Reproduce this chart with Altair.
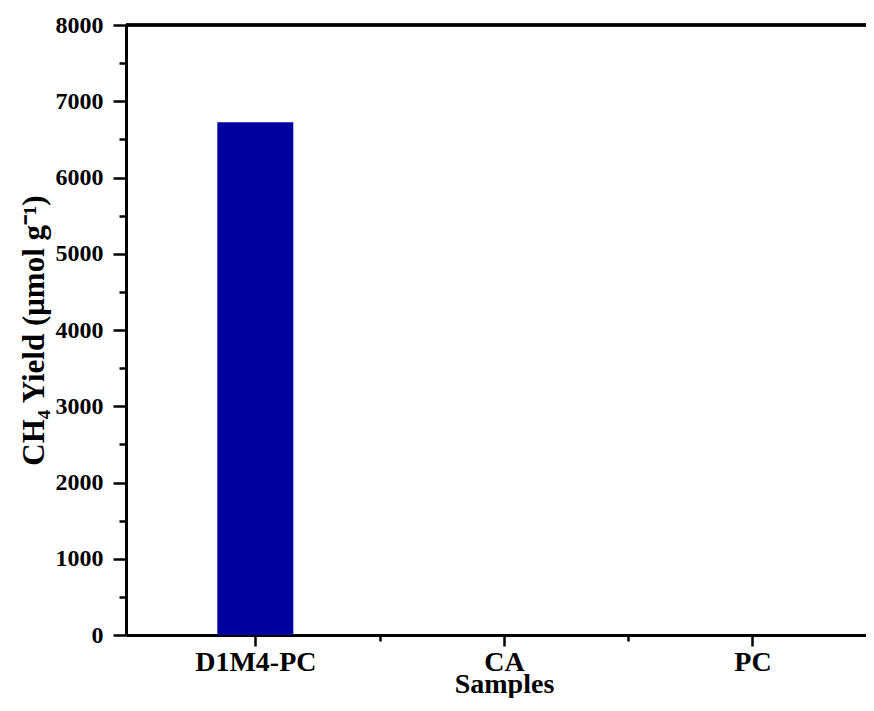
import altair as alt
import pandas as pd

categories = ["D1M4-PC", "CA", "PC"]
yields = [6725, 0, 0]
y_major = list(range(0, 8001, 1000))
y_minor = list(range(500, 8000, 1000))
x_major = [1, 2, 3]
x_minor = [1.5, 2.5]

df = pd.DataFrame({
    "sample": categories,
    "pos": list(range(1, len(categories) + 1)),
    "yield": yields,
})

label_expr = " : ".join(
    [f"datum.value === {i+1} ? '{c}'" for i, c in enumerate(categories)]
) + " : ''"

FONT = "Liberation Serif"
W, H = 740, 610
UNIT = 252  # pixels per category
x_scale = alt.Scale(domain=[0.5, 0.5 + W / UNIT], nice=False, zero=False)
y_scale = alt.Scale(domain=[0, 8000], nice=False)

bars = alt.Chart(df).mark_bar(width=76, color="#0000A0").encode(
    x=alt.X("pos:Q", scale=x_scale,
            axis=alt.Axis(
                orient="bottom",
                values=x_major,
                labelExpr=label_expr,
                title="Samples",
                titleFont=FONT, titleFontSize=28, titleFontWeight="bold",
                titleX=378, titleY=57, titleBaseline="alphabetic", titleAnchor="middle",
                labelFont=FONT, labelFontSize=28, labelFontWeight="bold",
                labelPadding=2, labelColor="black",
                tickSize=11, grid=False,
            )),
    y=alt.Y("yield:Q", scale=y_scale,
            axis=alt.Axis(
                orient="left",
                values=y_major,
                format="d",
                title="CH₄ Yield (μmol g⁻¹)",
                titleFont=FONT, titleFontSize=31, titleFontWeight="bold",
                titleX=-83, titleBaseline="alphabetic", titleAngle=-90,
                labelFont=FONT, labelFontSize=24, labelFontWeight="bold",
                labelPadding=10, labelColor="black",
                tickSize=13, grid=False,
            )),
)

minor = alt.Chart(df).mark_bar(width=76, opacity=0).encode(
    x=alt.X("pos:Q", scale=x_scale,
            axis=alt.Axis(orient="bottom", values=x_minor, labels=False, title=None,
                          domain=False, tickSize=6, grid=False)),
    y=alt.Y("yield:Q", scale=y_scale,
            axis=alt.Axis(orient="left", values=y_minor, labels=False, title=None,
                          domain=False, tickSize=7, grid=False)),
)

top_line = alt.Chart(df).mark_rule(color="black", strokeWidth=3).encode(
    x=alt.value(0), x2=alt.value(W), y=alt.value(0)
)

chart = alt.layer(bars, minor, top_line).resolve_axis(
    x="independent", y="independent"
).properties(
    width=W, height=H,
    padding={"left": 118, "top": 17, "right": 0, "bottom": 63},
    autosize="none",
    background="white",
).configure_view(stroke=None).configure_axis(
    domainColor="black", domainWidth=3, tickColor="black", tickWidth=2.5,
    titleColor="black",
)

chart.save("out.html", embed_options={"renderer": "svg", "actions": False})
